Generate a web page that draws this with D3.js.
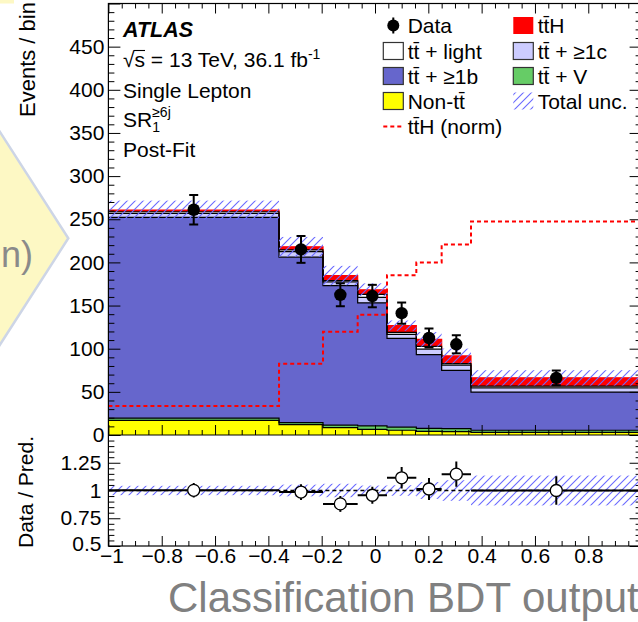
<!DOCTYPE html>
<html><head><meta charset="utf-8">
<script src="https://cdn.jsdelivr.net/npm/d3@7"></script>
<style>
html,body{margin:0;padding:0;background:#fff;overflow:hidden}
svg{display:block;font-family:"Liberation Sans",Arial,Helvetica,sans-serif}
</style></head><body>
<svg id="chart" width="638" height="622"></svg>
<script>
// ---- binning and post-fit yields (events / bin) ----
const binEdges = [-1, -0.36, -0.195, -0.065, 0.045, 0.155, 0.25, 0.36, 1];
const nonTT   = [17, 12, 8.5, 6.5, 5.5, 4.2, 3.8, 3.1];
const ttV     = [2.5, 2.3, 3, 4, 3.7, 3.5, 3.5, 2.4];
const ttB     = [232.6, 191.7, 161.7, 142.7, 102.8, 85.5, 67.7, 44.2];
const ttC     = [4.6, 6.5, 4.3, 6.3, 4.5, 6.3, 6, 4.9];
const ttLight = [2, 2, 1.5, 3.5, 2.5, 3.3, 1.8, 2];
const ttH     = [1.9, 3.5, 5.8, 5.2, 7.7, 8.1, 8.8, 9.6];
const totalUnc = [11, 11.5, 11.2, 7.5, 6, 8.4, 8.5, 8.9];
const dataVals = [261, 215, 162.5, 161, 141.2, 112.4, 105.1, 66.2];
const dataErr  = [17, 15.5, 13.3, 13, 12.3, 11, 10.5, 8.5];
const ttHNorm  = [33.6, 82.5, 119.6, 139.2, 185.2, 199.9, 220.7, 247.3];

// ---- axis ticks ----
const xTicks = [-1, -0.8, -0.6, -0.4, -0.2, 0, 0.2, 0.4, 0.6, 0.8];
const yTicks = [0, 50, 100, 150, 200, 250, 300, 350, 400, 450];
const rTicks = [0.5, 0.75, 1, 1.25];

// ---- layout ----
const X0 = 108.4, X1 = 641.6;
const mainTop = 3.5, mainBot = 435, ratioBot = 546;
const FONT = 21;

const svg = d3.select('#chart');
const x  = d3.scaleLinear().domain([-1, 1]).range([X0, X1]);
const y  = d3.scaleLinear().domain([0, 500]).range([mainBot, mainTop]);
const yr = d3.scaleLinear().domain([0.5, 1.5]).range([ratioBot, mainBot]);

const nBins = binEdges.length - 1;
const bins = d3.range(nBins);

// hatch pattern for the total uncertainty
const defs = svg.append('defs');
defs.append('pattern').attr('id', 'hatch').attr('patternUnits', 'userSpaceOnUse')
  .attr('width', 8).attr('height', 8)
  .append('path').attr('d', 'M-2,2 L2,-2 M0,8 L8,0 M6,10 L10,6')
  .attr('stroke', '#6a6aff').attr('stroke-width', 1.1);
defs.append('clipPath').attr('id', 'mainClip').append('rect')
  .attr('x', X0).attr('y', mainTop).attr('width', X1 - X0).attr('height', mainBot - mainTop);
defs.append('clipPath').attr('id', 'ratioClip').append('rect')
  .attr('x', X0).attr('y', mainBot).attr('width', X1 - X0).attr('height', ratioBot - mainBot);

// ---- slide decoration on the left ----
svg.append('rect').attr('x', 0).attr('y', 0).attr('width', 14).attr('height', 3.5).attr('fill', '#fdf8c4');
svg.append('polygon')
  .attr('points', [[-10, 116.4], [68.3, 238.3], [-10, 360.2]].map(p => p.join(',')).join(' '))
  .attr('fill', '#fdf8c4').attr('stroke', '#cdd5e6').attr('stroke-width', 2.5);
svg.append('text').attr('x', 33).attr('y', 267).attr('text-anchor', 'end')
  .attr('font-size', 36).attr('fill', '#8a8a8a').text('n)');

// ---- stacked histogram ----
const stack = [
  {vals: nonTT,   fill: '#ffff00', stroke: '#000'},
  {vals: ttV,     fill: '#66cc66', stroke: '#000'},
  {vals: ttB,     fill: '#6666cc', stroke: '#000'},
  {vals: ttC,     fill: '#ccccff', stroke: '#000'},
  {vals: ttLight, fill: '#ffffff', stroke: '#000'},
  {vals: ttH,     fill: '#ff0000', stroke: '#ff0000'}
];
let run = bins.map(() => 0);
stack.forEach(s => { run = run.map((r, i) => r + s.vals[i]); s.cum = run.slice(); });
const total = stack[stack.length - 1].cum;

const edgePts = vals => binEdges.map((e, i) => ({e, v: vals[Math.min(i, nBins - 1)]}));
const stepArea = d3.area().curve(d3.curveStepAfter).x(d => x(d.e)).y0(y(0)).y1(d => y(d.v));
const stepLine = d3.line().curve(d3.curveStepAfter).x(d => x(d.e)).y(d => y(d.v));

const gMain = svg.append('g').attr('clip-path', 'url(#mainClip)');
stack.slice().reverse().forEach(s => {
  gMain.append('path').attr('d', stepArea(edgePts(s.cum))).attr('fill', s.fill);
});
stack.slice().reverse().forEach(s => {
  gMain.append('path').attr('d', stepLine(edgePts(s.cum))).attr('fill', 'none')
    .attr('stroke', s.stroke).attr('stroke-width', 1.2);
});

// total uncertainty band
gMain.selectAll('rect.unc').data(bins).join('rect').attr('class', 'unc')
  .attr('x', i => x(binEdges[i])).attr('width', i => x(binEdges[i + 1]) - x(binEdges[i]))
  .attr('y', i => y(total[i] + totalUnc[i]))
  .attr('height', i => y(total[i] - totalUnc[i]) - y(total[i] + totalUnc[i]))
  .attr('fill', 'url(#hatch)');

// normalised ttH shape
gMain.append('path').attr('d', stepLine(edgePts(ttHNorm))).attr('fill', 'none')
  .attr('stroke', '#ff0000').attr('stroke-width', 2).attr('stroke-dasharray', '4,3');

// data points
const centers = bins.map(i => (binEdges[i] + binEdges[i + 1]) / 2);
const gData = gMain.append('g');
bins.forEach(i => {
  const cx = x(centers[i]);
  const yt = y(dataVals[i] + dataErr[i]), yb = y(dataVals[i] - dataErr[i]);
  gData.append('line').attr('x1', cx).attr('x2', cx).attr('y1', yt).attr('y2', yb)
    .attr('stroke', '#000').attr('stroke-width', 2);
  [yt, yb].forEach(yy => gData.append('line').attr('x1', cx - 4.5).attr('x2', cx + 4.5)
    .attr('y1', yy).attr('y2', yy).attr('stroke', '#000').attr('stroke-width', 2));
  gData.append('circle').attr('cx', cx).attr('cy', y(dataVals[i])).attr('r', 6.2).attr('fill', '#000');
});

// ---- ratio panel ----
const gRatio = svg.append('g').attr('clip-path', 'url(#ratioClip)');
gRatio.selectAll('rect.runc').data(bins).join('rect').attr('class', 'runc')
  .attr('x', i => x(binEdges[i])).attr('width', i => x(binEdges[i + 1]) - x(binEdges[i]))
  .attr('y', i => yr(1 + totalUnc[i] / total[i]))
  .attr('height', i => yr(1 - totalUnc[i] / total[i]) - yr(1 + totalUnc[i] / total[i]))
  .attr('fill', 'url(#hatch)');
gRatio.append('line').attr('x1', X0).attr('x2', X1).attr('y1', yr(1)).attr('y2', yr(1))
  .attr('stroke', '#000').attr('stroke-width', 1.5).attr('stroke-dasharray', '4,3');
bins.forEach(i => {
  const r = dataVals[i] / total[i], re = dataErr[i] / total[i];
  const cx = x(centers[i]);
  gRatio.append('line').attr('x1', x(binEdges[i])).attr('x2', x(binEdges[i + 1]))
    .attr('y1', yr(r)).attr('y2', yr(r)).attr('stroke', '#000').attr('stroke-width', 2);
  gRatio.append('line').attr('x1', cx).attr('x2', cx).attr('y1', yr(r + re)).attr('y2', yr(r - re))
    .attr('stroke', '#000').attr('stroke-width', 2);
  gRatio.append('circle').attr('cx', cx).attr('cy', yr(r)).attr('r', 6)
    .attr('fill', '#fff').attr('stroke', '#000').attr('stroke-width', 1.3);
});

// ---- frames and ticks ----
function ticks(axisFn, scale, vals, len, tx, ty, labels, fmt, pad) {
  const a = axisFn(scale).tickValues(vals).tickSizeInner(-len).tickSizeOuter(0)
    .tickPadding(pad || 6).tickFormat(labels ? fmt : () => '');
  const g = svg.append('g').attr('transform', `translate(${tx},${ty})`).call(a);
  g.select('.domain').remove();
  g.selectAll('line').attr('stroke', '#000').attr('stroke-width', 1);
  g.selectAll('text').attr('font-size', FONT).attr('fill', '#000')
    .attr('font-family', '"Liberation Sans",Arial,Helvetica,sans-serif');
  return g;
}
const minorX = d3.range(-20, 21).map(k => k * 0.05).filter(v => Math.abs(v * 5 - Math.round(v * 5)) > 1e-6);
const majorX = d3.range(-5, 6).map(k => k * 0.2);
const minorY = d3.range(0, 50).map(k => k * 10).filter(v => v % 50 !== 0);
const minorR = d3.range(10, 31).map(k => k * 0.05).filter(v => Math.abs(v * 4 - Math.round(v * 4)) > 1e-6);
const majorR = [0.5, 0.75, 1, 1.25, 1.5];

// main panel
ticks(d3.axisLeft, y, yTicks.concat([500]), 12, X0, 0, true, d => (d === 500 ? '' : d3.format('d')(d)), 4);
ticks(d3.axisLeft, y, minorY, 6, X0, 0, false);
ticks(d3.axisRight, y, yTicks, 12, X1, 0, false);
ticks(d3.axisRight, y, minorY, 6, X1, 0, false);
ticks(d3.axisBottom, x, majorX, 10, 0, mainBot, false);
ticks(d3.axisBottom, x, minorX, 5, 0, mainBot, false);
ticks(d3.axisTop, x, majorX, 10, 0, mainTop, false);
ticks(d3.axisTop, x, minorX, 5, 0, mainTop, false);
// ratio panel
const rLab = ticks(d3.axisLeft, yr, rTicks, 12, X0, 0, true, d => d3.format('~g')(d), 7);
rLab.selectAll('.tick').filter(d => d === 0.5).select('text').attr('dy', '0.2em');
ticks(d3.axisLeft, yr, [1.5], 12, X0, 0, false);
ticks(d3.axisLeft, yr, minorR, 6, X0, 0, false);
ticks(d3.axisRight, yr, majorR, 12, X1, 0, false);
ticks(d3.axisRight, yr, minorR, 6, X1, 0, false);
const xLab = ticks(d3.axisBottom, x, xTicks, 10, 0, ratioBot, true, d => d3.format('~g')(d), 2);
xLab.selectAll('.tick').filter(d => d === -1).select('text').attr('dx', '0.15em');
ticks(d3.axisBottom, x, minorX, 5, 0, ratioBot, false);

svg.append('rect').attr('x', X0).attr('y', mainTop).attr('width', X1 - X0).attr('height', ratioBot - mainTop)
  .attr('fill', 'none').attr('stroke', '#000').attr('stroke-width', 1.2);
svg.append('line').attr('x1', X0).attr('x2', X1).attr('y1', mainBot).attr('y2', mainBot)
  .attr('stroke', '#000').attr('stroke-width', 1.2);

// ---- axis titles ----
svg.append('text').attr('transform', 'translate(35,117) rotate(-90)').attr('font-size', 22).text('Events / bin');
svg.append('text').attr('transform', 'translate(33,548) rotate(-90)').attr('font-size', 21).text('Data / Pred.');
svg.append('text').attr('x', 168).attr('y', 612).attr('font-size', 42).attr('fill', '#808080')
  .text('Classification BDT output');

// ---- labels ----
svg.append('text').attr('x', 123).attr('y', 36.5).attr('font-size', 21.5)
  .attr('font-weight', 'bold').attr('font-style', 'italic').text('ATLAS');
const sq = svg.append('text').attr('x', 123).attr('y', 67).attr('font-size', FONT);
sq.append('tspan').text('\u221A');
sq.append('tspan').text('s');
sq.append('tspan').text(' = 13 TeV, 36.1 fb');
sq.append('tspan').attr('dy', -8).attr('font-size', 14).text('-1');
{
  const n = sq.node();
  const a = n.getSubStringLength(0, 1), b = n.getSubStringLength(1, 1);
  svg.append('line').attr('x1', 123 + a - 1).attr('x2', 123 + a + b).attr('y1', 67 - 16.5).attr('y2', 67 - 16.5)
    .attr('stroke', '#000').attr('stroke-width', 1.1);
}
svg.append('text').attr('x', 123).attr('y', 97.5).attr('font-size', FONT).text('Single Lepton');
const sr = svg.append('text').attr('x', 123).attr('y', 127).attr('font-size', FONT).text('SR');
const srW = sr.node().getComputedTextLength();
svg.append('text').attr('x', 123 + srW).attr('y', 131.5).attr('font-size', 14).text('1');
svg.append('text').attr('x', 123 + srW).attr('y', 117).attr('font-size', 14).text('\u22656j');
svg.append('text').attr('x', 123).attr('y', 157).attr('font-size', FONT).text('Post-Fit');

// ---- legend ----
const tt = 'tt\u0304';
const legendRows = [25.5, 51, 76, 101, 126.5];
const col1 = 383.3, col2 = 513.3, boxW = 20, boxH = 17, txtOff = 24.4;
const leg = svg.append('g');
const legendItems = [
  {col: col1, row: 0, type: 'data', label: 'Data'},
  {col: col1, row: 1, type: 'box', fill: '#ffffff', stroke: '#333', label: tt + ' + light'},
  {col: col1, row: 2, type: 'box', fill: '#6666cc', stroke: '#333', label: tt + ' + \u22651b'},
  {col: col1, row: 3, type: 'box', fill: '#ffff00', stroke: '#333', label: 'Non-' + tt},
  {col: col1, row: 4, type: 'dash', label: tt + 'H (norm)'},
  {col: col2, row: 0, type: 'box', fill: '#ff0000', stroke: 'none', label: tt + 'H'},
  {col: col2, row: 1, type: 'box', fill: '#ccccff', stroke: '#333', label: tt + ' + \u22651c'},
  {col: col2, row: 2, type: 'box', fill: '#66cc66', stroke: '#333', label: tt + ' + V'},
  {col: col2, row: 3, type: 'box', fill: 'url(#hatch)', stroke: 'none', label: 'Total unc.'}
];
legendItems.forEach(it => {
  const cy = legendRows[it.row];
  if (it.type === 'box') {
    leg.append('rect').attr('x', it.col).attr('y', cy - boxH / 2).attr('width', boxW).attr('height', boxH)
      .attr('fill', it.fill).attr('stroke', it.stroke).attr('stroke-width', 1.2);
  } else if (it.type === 'data') {
    leg.append('line').attr('x1', it.col + 10).attr('x2', it.col + 10).attr('y1', cy - 8).attr('y2', cy + 8)
      .attr('stroke', '#000').attr('stroke-width', 2);
    leg.append('circle').attr('cx', it.col + 10).attr('cy', cy).attr('r', 6).attr('fill', '#000');
  } else {
    leg.append('line').attr('x1', it.col).attr('x2', it.col + boxW).attr('y1', cy).attr('y2', cy)
      .attr('stroke', '#ff0000').attr('stroke-width', 2).attr('stroke-dasharray', '4,3');
  }
  leg.append('text').attr('x', it.col + txtOff).attr('y', cy + 7.5).attr('font-size', FONT).text(it.label);
});
</script>
</body></html>
